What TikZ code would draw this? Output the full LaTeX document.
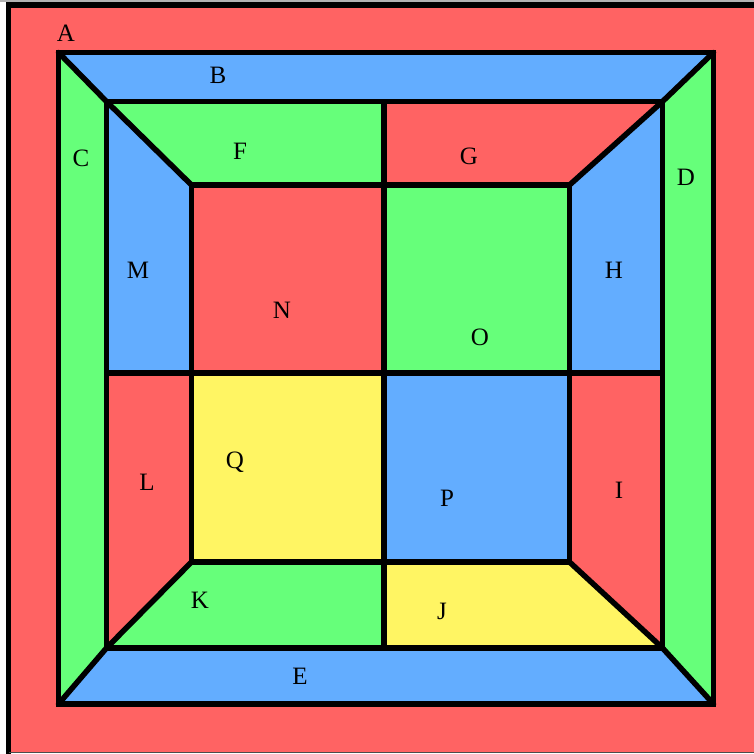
\documentclass[tikz,border=0pt]{standalone}
\usepackage{fontspec}
\setmainfont{Liberation Serif}
\definecolor{cred}{HTML}{FF6363}
\definecolor{cblue}{HTML}{63ADFF}
\definecolor{cgreen}{HTML}{66FF7A}
\definecolor{cyellow}{HTML}{FFF563}
\tikzset{
  edge/.style={draw=black,line width=5.5pt,line join=miter},
  diag/.style={draw=black,line width=5.5pt,line cap=round},
  lab/.style={font=\fontsize{25}{28}\selectfont,inner sep=0pt}
}
\begin{document}
\begin{tikzpicture}[x=1pt,y=-1pt]
\useasboundingbox (0,0) rectangle (754,753);
\fill[white] (0,0) rectangle (754,753);
\fill[cred] (8.5,5) rectangle (754,753);
\fill[black!30] (0,0) rectangle (754,2);
\draw[line width=5.5pt] (8.5,760) -- (8.5,5) -- (760,5);
\draw[black!70,line width=1.2pt] (8.5,752.4) -- (754,752.4);
% coordinates
\coordinate (o1) at (58.5,52.5);
\coordinate (o2) at (713.5,52.5);
\coordinate (o3) at (713.5,704);
\coordinate (o4) at (58.5,704);
\coordinate (m1) at (106.5,101.5);
\coordinate (m2) at (662.5,101.5);
\coordinate (m3) at (662.5,648);
\coordinate (m4) at (106.5,648);
\coordinate (i1) at (191.5,185);
\coordinate (i2) at (569.5,185);
\coordinate (i3) at (569.5,562);
\coordinate (i4) at (191.5,562);
\coordinate (mt) at (384,101.5);
\coordinate (it) at (384,185);
\coordinate (ib) at (384,562);
\coordinate (mb) at (384,648);
\coordinate (ml) at (106.5,373);
\coordinate (il) at (191.5,373);
\coordinate (ir) at (569.5,373);
\coordinate (mr) at (662.5,373);
\coordinate (c) at (384,373);
% regions
\fill[cblue] (o1) -- (o2) -- (m2) -- (m1) -- cycle;
\fill[cgreen] (o1) -- (m1) -- (m4) -- (o4) -- cycle;
\fill[cgreen] (o2) -- (o3) -- (m3) -- (m2) -- cycle;
\fill[cblue] (o4) -- (m4) -- (m3) -- (o3) -- cycle;
\fill[cgreen] (m1) -- (mt) -- (it) -- (i1) -- cycle;
\fill[cred] (mt) -- (m2) -- (i2) -- (it) -- cycle;
\fill[cblue] (m2) -- (mr) -- (ir) -- (i2) -- cycle;
\fill[cred] (mr) -- (m3) -- (i3) -- (ir) -- cycle;
\fill[cyellow] (ib) -- (i3) -- (m3) -- (mb) -- cycle;
\fill[cgreen] (i4) -- (ib) -- (mb) -- (m4) -- cycle;
\fill[cred] (ml) -- (il) -- (i4) -- (m4) -- cycle;
\fill[cblue] (m1) -- (i1) -- (il) -- (ml) -- cycle;
\fill[cred] (i1) -- (it) -- (c) -- (il) -- cycle;
\fill[cgreen] (it) -- (i2) -- (ir) -- (c) -- cycle;
\fill[cblue] (c) -- (ir) -- (i3) -- (ib) -- cycle;
\fill[cyellow] (il) -- (c) -- (ib) -- (i4) -- cycle;
% borders
\draw[diag] (o1) -- (m1) -- (i1);
\draw[diag] (o2) -- (m2) -- (i2);
\draw[diag] (o3) -- (m3) -- (i3);
\draw[diag] (o4) -- (m4) -- (i4);
\draw[edge] (mt) -- (mb);
\draw[edge] (ml) -- (mr);
\draw[edge] (o1) -- (o2) -- (o3) -- (o4) -- cycle;
\draw[edge] (m1) -- (m2) -- (m3) -- (m4) -- cycle;
\draw[edge] (i1) -- (i2) -- (i3) -- (i4) -- cycle;
% labels
\node[lab] (A) at (66,33) {A};
\node[lab] (B) at (218,75) {B};
\node[lab] (C) at (81,158) {C};
\node[lab] (D) at (686,177) {D};
\node[lab] (E) at (300,676) {E};
\node[lab] (F) at (240,151) {F};
\node[lab] (G) at (469,156) {G};
\node[lab] (H) at (614,270) {H};
\node[lab] (I) at (619,490) {I};
\node[lab] (J) at (442,611) {J};
\node[lab] (K) at (200,600) {K};
\node[lab] (L) at (147,482) {L};
\node[lab] (M) at (138,270) {M};
\node[lab] (N) at (282,310) {N};
\node[lab] (O) at (480,337) {O};
\node[lab] (P) at (447,498) {P};
\node[lab] (Q) at (235,462) {Q};
\end{tikzpicture}
\end{document}
